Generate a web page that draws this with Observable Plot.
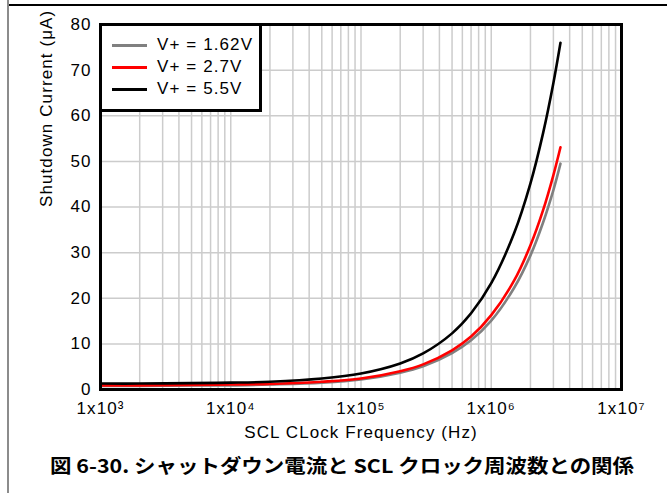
<!DOCTYPE html>
<html>
<head>
<meta charset="utf-8">
<script src="https://cdn.jsdelivr.net/npm/d3@7"></script>
<script src="https://cdn.jsdelivr.net/npm/@observablehq/plot@0.6"></script>
<style>
  body { margin: 0; background: #fff; }
  #wrap { position: relative; width: 667px; height: 493px; overflow: hidden; background: #fff;
          font-family: "Liberation Sans", Arial, sans-serif; }
  #chart { position: absolute; left: 0; top: 0; }
  #chart svg text { letter-spacing: 1.1px; }
  #topline { position: absolute; left: 8px; top: 4px; width: 659px; height: 2px; background: #000; }
  #leftline { position: absolute; left: 7px; top: 0; width: 2px; height: 493px; background: #8c8c8c; }
  #legend { position: absolute; left: 99px; top: 23px; width: 163px; height: 89px; box-sizing: border-box;
            border: 3px solid #000; background: #fff; }
  .entry { position: absolute; left: 10px; height: 22px; width: 150px; }
  .swatch { position: absolute; left: 0; top: 10px; width: 35px; height: 3px; }
  .lab { position: absolute; left: 45px; top: 0; font-size: 17px; line-height: 22px; letter-spacing: 1.1px; color: #000; white-space: nowrap; }
  #caption { position: absolute; left: 50px; top: 452px; font-family: "Noto Sans CJK JP", sans-serif; font-weight: bold;
             font-size: 19px; line-height: 26px; white-space: nowrap; transform-origin: 0 0; color: #000; }
</style>
</head>
<body>
<div id="wrap">
  <div id="chart"></div>
  <div id="legend"></div>
  <div id="topline"></div>
  <div id="leftline"></div>
  <div id="caption">図 6-30. シャットダウン電流と SCL クロック周波数との関係</div>
</div>
<script>
// ---- data ----
const freqHz = [1e3, 2e3, 5e3, 1e4, 2e4, 5e4, 1e5, 2e5, 3e5, 5e5, 7e5, 1e6, 1.5e6, 2e6, 2.5e6, 3e6, 3.4e6];
const iV162 = [0.8, 0.8, 0.9, 0.9, 1.1, 1.5, 2.2, 3.7, 5.1, 8.0, 10.8, 15.1, 22.3, 29.4, 36.6, 43.7, 49.5];
const iV27  = [0.9, 0.9, 1.0, 1.1, 1.2, 1.7, 2.4, 4.0, 5.5, 8.6, 11.6, 16.3, 23.9, 31.6, 39.3, 47.0, 53.1];
const iV55  = [1.3, 1.3, 1.4, 1.5, 1.7, 2.4, 3.5, 5.7, 7.9, 12.3, 16.7, 23.3, 34.3, 45.2, 56.2, 67.2, 76.0];
const seriesNames = ["V+ = 1.62V", "V+ = 2.7V", "V+ = 5.5V"];
const seriesColors = ["#808080", "#ff0000", "#000000"];
const xTicks = [1e3, 1e4, 1e5, 1e6, 1e7];
const xTickLabels = ["1x10³", "1x10⁴", "1x10⁵", "1x10⁶", "1x10⁷"];
const yTicks = [0, 10, 20, 30, 40, 50, 60, 70, 80];
const xTitle = "SCL CLock Frequency (Hz)";
const yTitle = "Shutdown Current (μA)";

const seriesValues = [iV162, iV27, iV55];
const rows = [];
seriesNames.forEach((s, k) => freqHz.forEach((f, i) => rows.push({s, f, i: seriesValues[k][i]})));
const minorTicks = d3.scaleLog().domain([1e3, 1e7]).ticks();

const chart = Plot.plot({
  width: 667,
  height: 450,
  marginLeft: 100,
  marginRight: 46,
  marginTop: 24,
  marginBottom: 61,
  style: { fontFamily: '"Liberation Sans", Arial, sans-serif', fontSize: "17px", color: "#000", background: "transparent" },
  x: { type: "log", domain: [1e3, 1e7] },
  y: { domain: [0, 80] },
  color: { domain: seriesNames, range: seriesColors },
  marks: [
    Plot.ruleX(minorTicks, { stroke: "#cccccc", strokeWidth: 1.5 }),
    Plot.ruleY(yTicks, { stroke: "#cccccc", strokeWidth: 1.5 }),
    Plot.line(rows, { x: "f", y: "i", z: "s", stroke: "s", strokeWidth: 2.6, curve: "catmull-rom" }),
    Plot.axisX({ ticks: xTicks, tickFormat: d => xTickLabels[xTicks.indexOf(d)], tickSize: 0, tickPadding: 12, label: null, fontSize: 17 }),
    Plot.axisY({ ticks: yTicks, tickSize: 0, tickPadding: 9, label: null, fontSize: 17 }),
    Plot.frame({ stroke: "#000", strokeWidth: 3 }),
    Plot.text([xTitle], { text: d => d, frameAnchor: "bottom", dy: 48, fontSize: 17 }),
    Plot.text([yTitle], { text: d => d, frameAnchor: "left", dx: -54, rotate: -90, fontSize: 17 })
  ]
});
document.getElementById("chart").appendChild(chart);

// legend
const legend = document.getElementById("legend");
seriesNames.forEach((s, k) => {
  const e = document.createElement("div");
  e.className = "entry";
  e.style.top = (8 + k * 22) + "px";
  const sw = document.createElement("div");
  sw.className = "swatch";
  sw.style.background = seriesColors[k];
  const t = document.createElement("div");
  t.className = "lab";
  t.textContent = s;
  e.appendChild(sw); e.appendChild(t);
  legend.appendChild(e);
});

// caption width fit
const cap = document.getElementById("caption");
const w = cap.getBoundingClientRect().width;
cap.style.transform = `scaleX(${584 / w})`;
</script>
</body>
</html>
